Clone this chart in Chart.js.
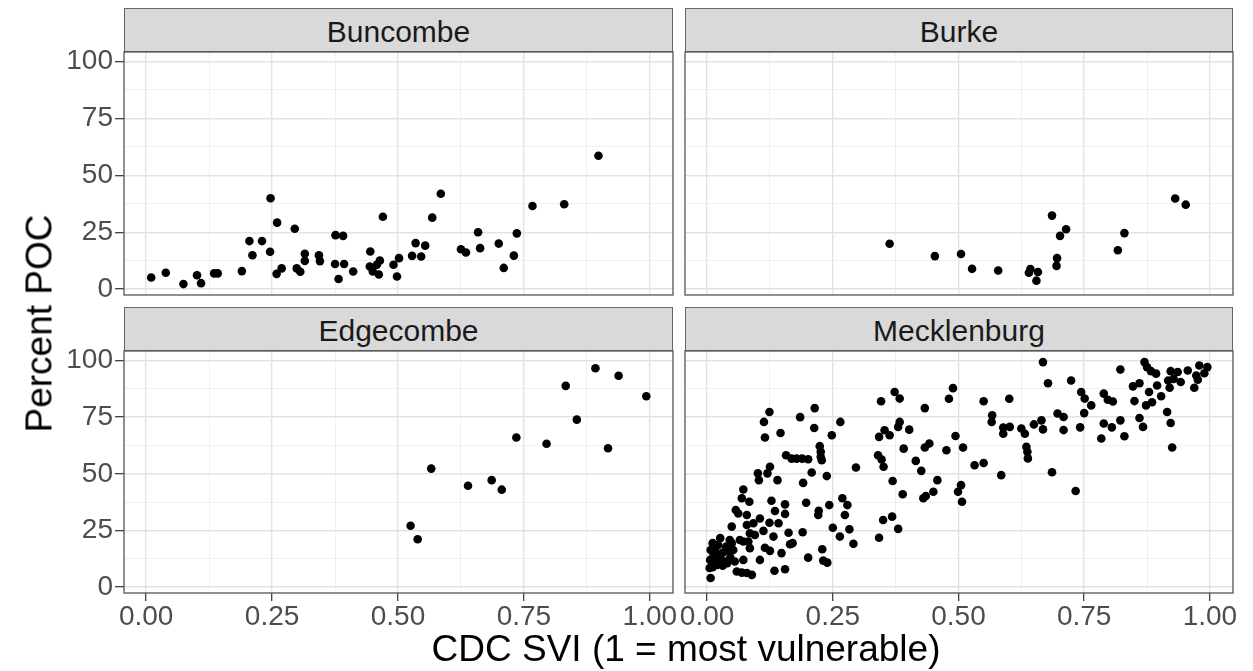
<!DOCTYPE html>
<html>
<head>
<meta charset="utf-8">
<script src="https://cdn.jsdelivr.net/npm/chart.js@4.4.1/dist/chart.umd.min.js"></script>
<style>
  body { margin: 0; background: #fff; }
  #wrap { position: relative; width: 1253px; height: 671px; overflow: hidden;
          font-family: "Liberation Sans", Arial, Helvetica, sans-serif; }
  canvas { position: absolute; }
  .strip { position: absolute; box-sizing: border-box; background: #d9d9d9;
           border: 1px solid #666; text-align: center; font-size: 30px;
           line-height: 45px; color: #1a1a1a; overflow: hidden; }
  .title { position: absolute; font-size: 37px; line-height: 37px; color: #000;
           text-align: center; white-space: nowrap; }
</style>
</head>
<body>
<div id="wrap"></div>
<script>
// facet names
const counties = ['Buncombe', 'Burke', 'Edgecombe', 'Mecklenburg'];

// axis breaks and labels
const xBreaks = [0, 0.25, 0.5, 0.75, 1];
const xLabels = ['0.00', '0.25', '0.50', '0.75', '1.00'];
const xMinor = [0.125, 0.375, 0.625, 0.875];
const yBreaks = [0, 25, 50, 75, 100];
const yLabels = ['0', '25', '50', '75', '100'];
const yMinor = [12.5, 37.5, 62.5, 87.5];

// CDC SVI (x) and percent POC (y) per tract
const buncombeSVI = [0.010, 0.039, 0.074, 0.101, 0.109, 0.135, 0.142, 0.190, 0.205, 0.211,
  0.230, 0.247, 0.246, 0.260, 0.259, 0.269, 0.295, 0.299, 0.306, 0.315, 0.315, 0.343, 0.345,
  0.376, 0.391, 0.375, 0.393, 0.382, 0.411, 0.470, 0.445, 0.444, 0.464, 0.458, 0.450, 0.462,
  0.491, 0.502, 0.498, 0.528, 0.546, 0.535, 0.554, 0.568, 0.585, 0.625, 0.635, 0.659, 0.663,
  0.700, 0.710, 0.730, 0.736, 0.767, 0.830, 0.898];
const buncombePOC = [5.1, 7.2, 2.2, 6.1, 2.6, 6.9, 6.9, 7.9, 21.1, 14.9,
  21.1, 39.9, 16.4, 29.2, 6.7, 9.1, 26.5, 9.1, 7.6, 15.5, 12.4, 14.8, 12.3,
  23.7, 23.4, 11.0, 11.0, 4.4, 7.7, 31.8, 16.5, 9.9, 12.5, 10.7, 7.7, 6.4,
  10.7, 13.6, 5.5, 14.6, 14.3, 20.2, 19.1, 31.4, 41.9, 17.5, 16.1, 25.0, 18.0,
  20.0, 9.3, 14.7, 24.5, 36.5, 37.3, 58.6];

const burkeSVI = [0.363, 0.453, 0.505, 0.527, 0.579, 0.643, 0.640, 0.658, 0.655, 0.686,
  0.714, 0.702, 0.696, 0.695, 0.817, 0.830, 0.931, 0.952];
const burkePOC = [19.9, 14.5, 15.4, 8.9, 8.2, 8.8, 7.2, 7.5, 3.7, 32.3,
  26.3, 23.4, 13.6, 10.2, 17.1, 24.6, 39.8, 37.1];

const edgecombeSVI = [0.525, 0.539, 0.566, 0.639, 0.686, 0.706, 0.735, 0.795, 0.833, 0.855,
  0.892, 0.938, 0.917, 0.993];
const edgecombePOC = [27.1, 21.1, 52.3, 44.7, 47.2, 43.0, 66.0, 63.3, 88.8, 73.9,
  96.6, 93.3, 61.3, 84.2];

const mecklenburgSVI = [
  0.072, 0.069, 0.084, 0.057, 0.062, 0.079, 0.105, 0.049, 0.079, 0.092, 0.085, 0.095, 0.026,
  0.045, 0.049, 0.065, 0.072, 0.082, 0.085, 0.072, 0.105, 0.059, 0.069, 0.079, 0.089, 0.007,
  0.011, 0.007, 0.016, 0.022, 0.038, 0.013, 0.020, 0.031, 0.042, 0.006, 0.016, 0.026, 0.036,
  0.046, 0.052, 0.011, 0.020, 0.031, 0.040, 0.005, 0.055,
  0.101, 0.103,
  0.373, 0.383, 0.346, 0.124, 0.113, 0.115, 0.146, 0.185, 0.214, 0.213, 0.265, 0.248, 0.433,
  0.342, 0.353, 0.363, 0.383, 0.380, 0.402, 0.157, 0.168, 0.178, 0.189, 0.201, 0.224, 0.226,
  0.226, 0.228, 0.340, 0.347, 0.351, 0.296, 0.391, 0.442, 0.433, 0.415, 0.426, 0.458, 0.450,
  0.435, 0.430, 0.369, 0.389, 0.125, 0.120, 0.140, 0.191, 0.208, 0.238, 0.128, 0.135, 0.155,
  0.155, 0.197, 0.222, 0.221, 0.243, 0.269, 0.279, 0.274, 0.250, 0.283, 0.264, 0.291, 0.350,
  0.368, 0.380, 0.342, 0.124, 0.142, 0.112, 0.132, 0.162, 0.190, 0.165, 0.170, 0.115, 0.125,
  0.148, 0.201, 0.229, 0.231, 0.239, 0.134, 0.155,
  0.489, 0.481, 0.550, 0.601, 0.567, 0.566, 0.589, 0.589, 0.602, 0.625, 0.632, 0.635, 0.637,
  0.638, 0.494, 0.476, 0.509, 0.532, 0.550, 0.585, 0.505, 0.499, 0.507,
  0.668, 0.678, 0.724, 0.822, 0.870, 0.875, 0.883, 0.893, 0.922, 0.936, 0.956, 0.979, 0.995,
  0.989, 0.973, 0.917, 0.928, 0.942, 0.920, 0.976, 0.969, 0.847, 0.860, 0.895, 0.879, 0.903,
  0.850, 0.873, 0.885, 0.744, 0.751, 0.764, 0.789, 0.797, 0.807, 0.750, 0.697, 0.709, 0.665,
  0.650, 0.668, 0.709, 0.742, 0.789, 0.805, 0.822, 0.784, 0.830, 0.860, 0.867, 0.915, 0.922,
  0.925, 0.686, 0.733];
const mecklenburgPOC = [
  43.1, 39.2, 37.7, 34.0, 32.5, 31.8, 30.3, 26.7, 27.4, 28.2, 23.8, 23.0, 21.6,
  20.8, 19.4, 20.8, 20.1, 20.1, 17.2, 12.0, 12.0, 6.9, 6.4, 6.2, 5.4, 4.0,
  19.4, 16.4, 17.2, 18.6, 17.9, 14.2, 14.7, 15.2, 16.1, 12.0, 12.0, 12.8, 11.3,
  13.2, 16.4, 8.8, 9.8, 9.4, 10.6, 8.4, 11.3,
  50.2, 47.2,
  86.1, 83.2, 82.0, 77.3, 72.9, 66.0, 68.0, 75.0, 79.0, 70.2, 72.9, 67.0, 79.0,
  66.3, 69.2, 67.0, 72.9, 70.7, 69.5, 58.2, 56.7, 56.7, 56.7, 56.4, 62.2, 59.7,
  57.5, 56.0, 58.2, 56.3, 53.1, 52.8, 61.1, 63.4, 61.6, 55.7, 51.3, 47.2, 42.1,
  40.2, 39.2, 46.8, 41.0, 53.1, 50.2, 47.2, 46.0, 50.6, 49.0, 38.1, 33.6, 36.5,
  32.3, 37.2, 33.7, 31.8, 36.2, 39.2, 36.2, 31.8, 26.2, 25.5, 22.3, 19.1, 29.6,
  31.1, 25.7, 21.8, 28.4, 28.2, 24.8, 22.3, 24.0, 24.2, 18.9, 19.4, 17.4, 16.0,
  15.0, 13.0, 16.7, 11.7, 10.8, 7.2, 7.9,
  87.8, 83.1, 82.0, 83.1, 75.8, 72.9, 70.4, 67.7, 70.7, 70.0, 67.7, 61.9, 59.7,
  56.8, 66.7, 60.4, 61.6, 53.8, 54.8, 49.4, 45.0, 42.1, 37.7,
  99.3, 90.0, 91.2, 96.0, 99.3, 97.1, 95.3, 94.2, 95.3, 94.9, 95.6, 97.8, 97.1,
  94.4, 93.4, 91.2, 91.9, 90.5, 88.0, 91.5, 88.0, 88.6, 90.0, 89.0, 86.1, 84.2,
  82.1, 80.2, 81.6, 86.1, 83.2, 80.2, 85.4, 82.7, 81.9, 76.8, 76.6, 75.1, 73.6,
  71.8, 69.6, 69.3, 70.5, 72.2, 70.5, 73.6, 65.6, 66.6, 74.6, 70.7, 77.3, 72.4,
  61.6, 50.7, 42.4];

const FONT = '"Liberation Sans", Arial, Helvetica, sans-serif';
const wrap = document.getElementById('wrap');

// panel rectangles in page pixels
const panels = [
  { name: counties[0], xs: buncombeSVI, ys: buncombePOC, L: 124, T: 52, R: 673, B: 295, showX: false, showY: true },
  { name: counties[1], xs: burkeSVI, ys: burkePOC, L: 685, T: 52, R: 1233, B: 295, showX: false, showY: false },
  { name: counties[2], xs: edgecombeSVI, ys: edgecombePOC, L: 124, T: 351, R: 673, B: 593, showX: true, showY: true },
  { name: counties[3], xs: mecklenburgSVI, ys: mecklenburgPOC, L: 685, T: 351, R: 1233, B: 593, showX: true, showY: false }
];

const isIn = (arr, v) => arr.some(b => Math.abs(b - v) < 1e-9);

const panelBorder = {
  id: 'panelBorder',
  afterDatasetsDraw(chart) {
    const a = chart.chartArea, c = chart.ctx;
    c.save();
    c.strokeStyle = '#555';
    c.lineWidth = 1.3;
    c.strokeRect(a.left, a.top, a.right - a.left, a.bottom - a.top);
    c.restore();
  }
};

panels.forEach(p => {
  // strip
  const strip = document.createElement('div');
  strip.className = 'strip';
  strip.style.left = p.L + 'px';
  strip.style.top = (p.T - 44) + 'px';
  strip.style.width = (p.R - p.L) + 'px';
  strip.style.height = '44px';
  strip.textContent = p.name;
  wrap.appendChild(strip);

  const yW = p.showY ? p.L : 0;
  const padL = p.showY ? 0 : 20;
  const padR = p.showY ? 40 : 20;
  const padT = 20;
  const xH = p.showX ? 45 : 0;
  const padB = p.showX ? 5 : 20;
  const left = p.L - yW - padL;
  const top = p.T - padT;

  const cv = document.createElement('canvas');
  cv.width = p.R + padR - left;
  cv.height = (p.B - p.T) + padT + xH + padB;
  cv.style.left = left + 'px';
  cv.style.top = top + 'px';
  wrap.appendChild(cv);

  new Chart(cv.getContext('2d'), {
    type: 'scatter',
    data: {
      datasets: [{
        data: p.xs.map((x, i) => ({ x: x, y: p.ys[i] })),
        backgroundColor: '#000',
        borderWidth: 0,
        pointRadius: 4.3,
        pointHoverRadius: 4.3
      }]
    },
    options: {
      responsive: false,
      animation: false,
      events: [],
      layout: { padding: { left: padL, right: padR, top: padT, bottom: padB } },
      plugins: { legend: { display: false }, tooltip: { enabled: false } },
      scales: {
        x: {
          type: 'linear',
          min: -0.044,
          max: 1.046,
          afterBuildTicks: s => { s.ticks = xBreaks.concat(xMinor).sort((a, b) => a - b).map(v => ({ value: v })); },
          afterFit: s => { s.height = xH; },
          border: { display: false },
          grid: {
            color: c => (c.tick && isIn(xBreaks, c.tick.value)) ? '#e3e3e3' : '#ececec',
            lineWidth: c => (c.tick && isIn(xBreaks, c.tick.value)) ? 1.4 : 0.8,
            drawTicks: p.showX,
            tickLength: 8,
            tickWidth: 1.2,
            tickColor: c => (c.tick && isIn(xBreaks, c.tick.value)) ? '#333' : 'rgba(0,0,0,0)'
          },
          ticks: {
            display: p.showX,
            autoSkip: false,
            maxRotation: 0,
            minRotation: 0,
            padding: 2,
            color: '#4d4d4d',
            font: { family: FONT, size: 28, lineHeight: 1 },
            callback: v => { const i = xBreaks.findIndex(b => Math.abs(b - v) < 1e-9); return i >= 0 ? xLabels[i] : ''; }
          }
        },
        y: {
          type: 'linear',
          min: -2.6,
          max: 104.2,
          afterBuildTicks: s => { s.ticks = yBreaks.concat(yMinor).sort((a, b) => a - b).map(v => ({ value: v })); },
          afterFit: s => { s.width = yW; },
          border: { display: false },
          grid: {
            color: c => (c.tick && isIn(yBreaks, c.tick.value)) ? '#e3e3e3' : '#ececec',
            lineWidth: c => (c.tick && isIn(yBreaks, c.tick.value)) ? 1.4 : 0.8,
            drawTicks: p.showY,
            tickLength: 9,
            tickWidth: 1.2,
            tickColor: c => (c.tick && isIn(yBreaks, c.tick.value)) ? '#333' : 'rgba(0,0,0,0)'
          },
          ticks: {
            display: p.showY,
            autoSkip: false,
            padding: 2,
            color: '#4d4d4d',
            font: { family: FONT, size: 28, lineHeight: 1 },
            callback: v => { const i = yBreaks.findIndex(b => Math.abs(b - v) < 1e-9); return i >= 0 ? yLabels[i] : ''; }
          }
        }
      }
    },
    plugins: [panelBorder]
  });
});

// axis titles
const xt = document.createElement('div');
xt.className = 'title';
xt.textContent = 'CDC SVI (1 = most vulnerable)';
xt.style.width = '700px';
xt.style.left = (686 - 350) + 'px';
xt.style.top = '630px';
wrap.appendChild(xt);

const yt = document.createElement('div');
yt.className = 'title';
yt.textContent = 'Percent POC';
yt.style.width = '400px';
yt.style.height = '37px';
yt.style.left = (38.7 - 200) + 'px';
yt.style.top = (323 - 18.5) + 'px';
yt.style.transform = 'rotate(-90deg)';
wrap.appendChild(yt);
</script>
</body>
</html>
